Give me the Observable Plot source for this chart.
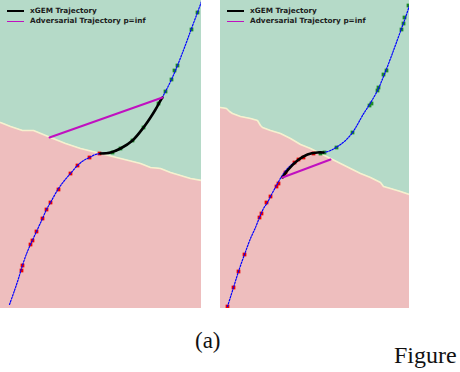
<!DOCTYPE html>
<html>
<head>
<meta charset="utf-8">
<script src="https://cdn.jsdelivr.net/npm/d3@7"></script>
<script src="https://cdn.jsdelivr.net/npm/@observablehq/plot@0.6"></script>
<style>
  html, body { margin: 0; padding: 0; background: #fff; }
  #page { position: relative; width: 460px; height: 372px; overflow: hidden; }
  .panel { position: absolute; top: 0; }
  .panel svg { display: block; }
  .legend { position: absolute; left: 7px; top: 6px; font-family: "DejaVu Sans", sans-serif; font-weight: bold; font-size: 7.3px; color: #1c1c1c; line-height: 10px; }
  .legend div { display: flex; align-items: center; white-space: nowrap; }
  .legend span.sw { display: inline-block; width: 17px; margin-right: 6px; }
  .cap { position: absolute; font-family: "Liberation Serif", "Times New Roman", serif; color: #111; white-space: nowrap; }
</style>
</head>
<body>
<div id="page"></div>
<script>
// ---------- data (units: panel coordinates, y measured downward from top) ----------
const panelHeight = 308;

// left panel
const leftWidth = 201;
const leftBoundaryX = [0, 10, 22, 33, 50, 65, 80, 100, 120, 140, 150, 160, 170, 180, 190, 201];
const leftBoundaryY = [122, 126, 130, 130, 137, 143, 148, 153, 158, 163, 167, 168, 172, 175, 178, 180];
const leftCurveX = [9, 14, 18, 21, 25, 30, 36, 42, 46, 50, 58, 64, 70, 77, 83, 89, 95, 100, 110, 120, 132, 143, 150, 155, 160, 165, 171, 177, 184, 191, 197, 201];
const leftCurveY = [304, 290, 278, 268, 256, 244, 231, 218, 209, 202, 188, 180, 173, 165, 160, 157, 154, 153, 152, 148, 140, 127, 117, 109, 100, 91, 79, 65, 47, 28, 12, 1];
const leftXgemX = [100, 110, 120, 132, 143, 150, 155, 160, 162];
const leftXgemY = [153, 152, 148, 140, 127, 117, 109, 100, 97];
const leftAdvX = [49, 162];
const leftAdvY = [137, 97];
const leftRedX = [21, 22, 30, 32, 36, 42, 46, 50, 58, 70, 77, 89, 99];
const leftRedY = [270, 265, 244, 240, 231, 218, 209, 202, 189, 173, 165, 157, 153];
const leftGreenX = [112, 120, 132, 143, 158, 165, 171, 174, 177, 191, 197];
const leftGreenY = [152, 148, 140, 127, 103, 91, 79, 70, 65, 29, 12];

// right panel
const rightWidth = 189;
const rightBoundaryX = [0, 6, 9, 12, 20, 30, 37, 40, 42, 50, 60, 70, 80, 90, 100, 110, 120, 130, 140, 150, 160, 163, 170, 180, 189];
const rightBoundaryY = [107, 108, 111, 113, 116, 118, 120, 125, 127, 130, 133, 138, 144, 148, 153, 158, 163, 168, 173, 177, 182, 186, 188, 191, 194];
const rightCurveX = [7, 13, 18, 24, 30, 35, 39, 43, 47, 50, 56, 63, 70, 77, 87, 97, 103, 110, 117, 125, 132, 137, 142, 149, 157, 165, 173, 181, 185, 189];
const rightCurveY = [306, 287, 271, 254, 238, 227, 217, 208, 202, 196, 185, 173, 165, 160, 154, 152, 152, 150, 146, 140, 132, 124, 115, 104, 90, 71, 50, 28, 17, 5];
const rightXgemX = [62, 67, 77, 87, 97, 103];
const rightXgemY = [177, 170, 160, 154, 152, 152];
const rightAdvX = [62, 110];
const rightAdvY = [177, 159];
const rightRedX = [7, 13, 18, 24, 39, 41, 46, 50, 56, 58, 65, 74, 78, 83, 93];
const rightRedY = [306, 287, 271, 254, 217, 213, 202, 196, 186, 183, 172, 162, 159, 157, 153];
const rightGreenX = [100, 104, 116, 132, 149, 151, 157, 158, 163, 166, 181, 183, 184, 188];
const rightGreenY = [153, 152, 147, 132, 105, 103, 90, 87, 74, 70, 29, 23, 17, 5];

const legendLabels = ["xGEM Trajectory", "Adversarial Trajectory p=inf"];
const legendColors = ["#000000", "#c010c0"];
const captionText = "(a)";
const figureText = "Figure";

// ---------- drawing ----------
const zip = (xs, ys) => xs.map((x, i) => ({x, y: ys[i]}));

function panel(width, bX, bY, cX, cY, xX, xY, aX, aY, rX, rY, gX, gY) {
  const boundary = zip(bX, bY);
  return Plot.plot({
    width, height: panelHeight, margin: 0,
    x: {domain: [0, width], axis: null},
    y: {domain: [0, panelHeight], reverse: true, axis: null},
    marks: [
      Plot.areaY(boundary, {x: "x", y1: panelHeight, y2: "y", fill: "#eebebe"}),
      Plot.areaY(boundary, {x: "x", y1: 0, y2: "y", fill: "#b5dac8"}),
      Plot.line(boundary, {x: "x", y: "y", stroke: "#f6f1cf", strokeWidth: 1.6}),
      Plot.dot(zip(rX, rY), {x: "x", y: "y", symbol: "square", r: 2.1, fill: "#ee0000"}),
      Plot.dot(zip(gX, gY), {x: "x", y: "y", symbol: "square", r: 2.1, fill: "#1d8a28"}),
      Plot.line(zip(cX, cY), {x: "x", y: "y", curve: "catmull-rom", stroke: "#0000ff", strokeWidth: 1.2, strokeDasharray: "1.6,1.4"}),
      Plot.line(zip(xX, xY), {x: "x", y: "y", curve: "catmull-rom", stroke: "#000", strokeWidth: 2.6}),
      Plot.line(zip(aX, aY), {x: "x", y: "y", stroke: legendColors[1], strokeWidth: 2})
    ]
  });
}

function legend() {
  const d = document.createElement("div");
  d.className = "legend";
  legendLabels.forEach((t, i) => {
    const row = document.createElement("div");
    const sw = document.createElement("span");
    sw.className = "sw";
    sw.style.borderTop = (i === 0 ? 2.5 : 1.5) + "px solid " + legendColors[i];
    row.appendChild(sw);
    row.appendChild(document.createTextNode(t));
    d.appendChild(row);
  });
  return d;
}

const page = document.getElementById("page");
[[0, leftWidth, panel(leftWidth, leftBoundaryX, leftBoundaryY, leftCurveX, leftCurveY, leftXgemX, leftXgemY, leftAdvX, leftAdvY, leftRedX, leftRedY, leftGreenX, leftGreenY)],
 [220, rightWidth, panel(rightWidth, rightBoundaryX, rightBoundaryY, rightCurveX, rightCurveY, rightXgemX, rightXgemY, rightAdvX, rightAdvY, rightRedX, rightRedY, rightGreenX, rightGreenY)]
].forEach(([left, w, svg]) => {
  const p = document.createElement("div");
  p.className = "panel";
  p.style.left = left + "px";
  p.style.width = w + "px";
  p.appendChild(svg);
  p.appendChild(legend());
  page.appendChild(p);
});

const cap = document.createElement("div");
cap.className = "cap";
cap.style.left = "195px"; cap.style.top = "328px"; cap.style.fontSize = "23px";
cap.textContent = captionText;
page.appendChild(cap);

const fig = document.createElement("div");
fig.className = "cap";
fig.style.left = "394px"; fig.style.top = "342px"; fig.style.fontSize = "24px";
fig.textContent = figureText;
page.appendChild(fig);
</script>
</body>
</html>
